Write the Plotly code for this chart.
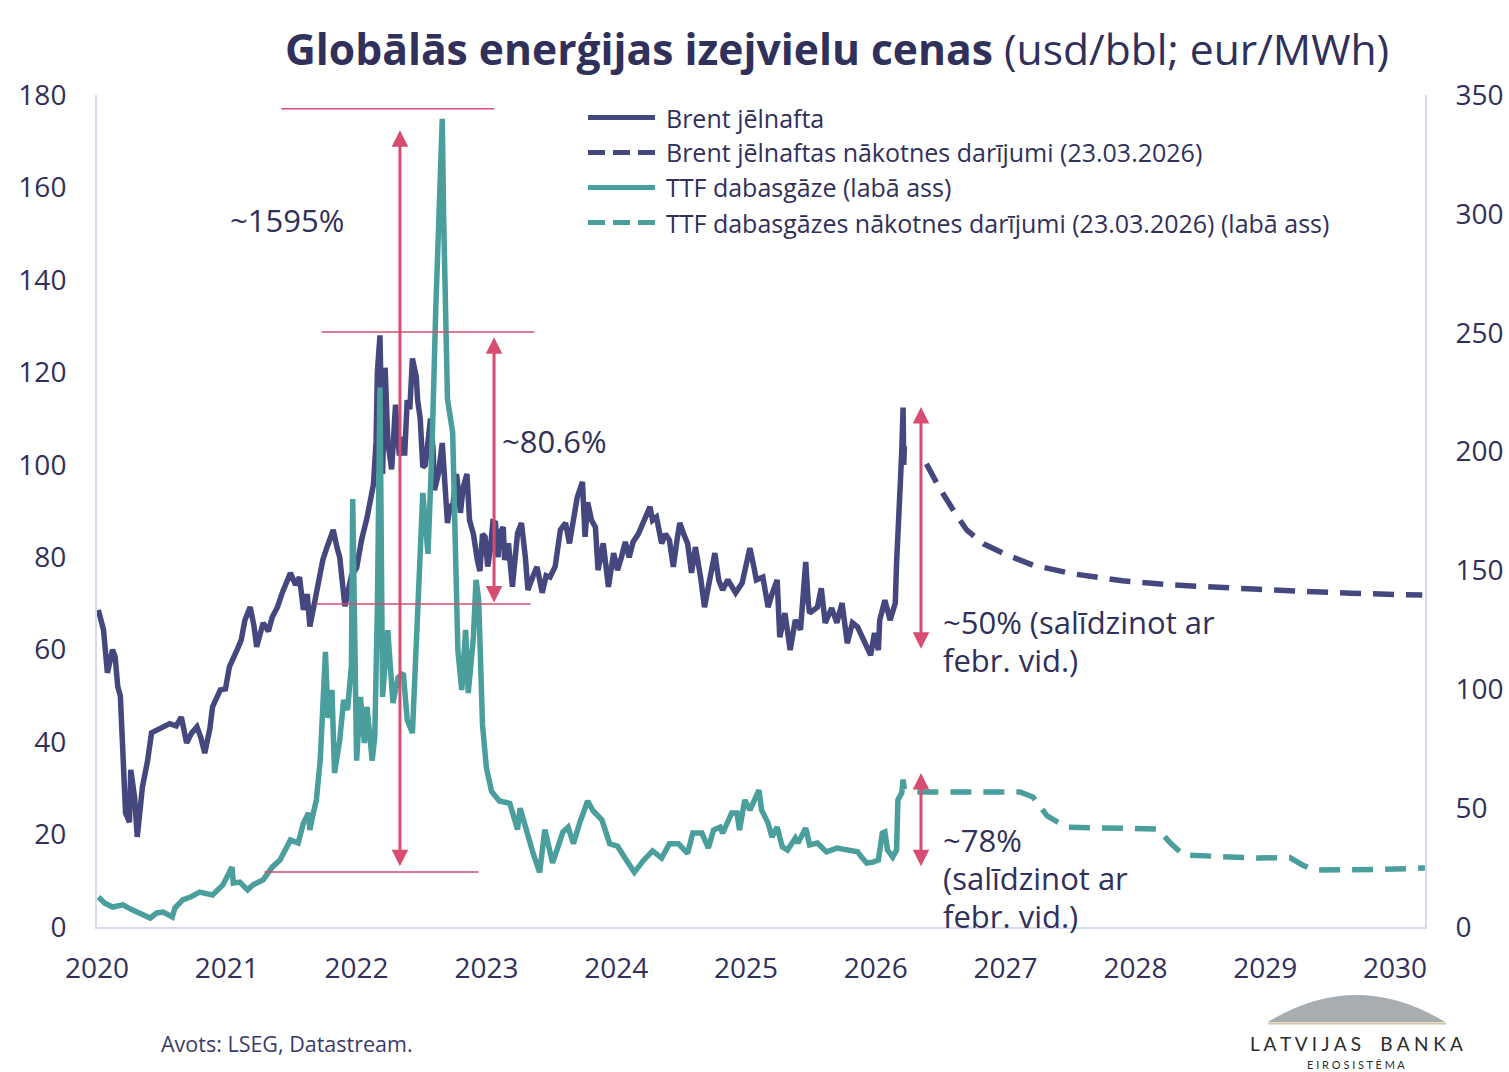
import plotly.graph_objects as go

# ---------------- data ----------------
brent_t = [2020.01, 2020.05, 2020.08, 2020.12, 2020.14, 2020.16, 2020.18, 2020.20, 2020.22, 2020.25,
           2020.26, 2020.29, 2020.31, 2020.35, 2020.39, 2020.42, 2020.49, 2020.56, 2020.61, 2020.65,
           2020.69, 2020.73, 2020.77, 2020.80, 2020.83, 2020.87, 2020.89, 2020.95, 2020.99, 2021.02,
           2021.08, 2021.11, 2021.14, 2021.18, 2021.21, 2021.23, 2021.28, 2021.32, 2021.35, 2021.39,
           2021.43, 2021.49, 2021.53, 2021.56, 2021.59, 2021.62, 2021.64, 2021.68, 2021.72, 2021.74,
           2021.77, 2021.82, 2021.85, 2021.87, 2021.90, 2021.91, 2021.93, 2021.96, 2022.00, 2022.04,
           2022.08, 2022.10, 2022.13, 2022.15, 2022.16, 2022.18, 2022.19, 2022.20, 2022.22, 2022.24,
           2022.27, 2022.30, 2022.31, 2022.33, 2022.36, 2022.37, 2022.39, 2022.41, 2022.43, 2022.46,
           2022.47, 2022.49, 2022.51, 2022.53, 2022.57, 2022.59, 2022.60, 2022.63, 2022.66, 2022.68,
           2022.70, 2022.72, 2022.74, 2022.77, 2022.80, 2022.82, 2022.85, 2022.87, 2022.90, 2022.93,
           2022.95, 2022.97, 2022.99, 2023.01, 2023.03, 2023.05, 2023.07, 2023.09, 2023.10, 2023.13,
           2023.14, 2023.17, 2023.20, 2023.24, 2023.27, 2023.30, 2023.32, 2023.36, 2023.39, 2023.43,
           2023.46, 2023.49, 2023.53, 2023.57, 2023.61, 2023.64, 2023.67, 2023.70, 2023.74, 2023.76,
           2023.78, 2023.81, 2023.84, 2023.86, 2023.90, 2023.94, 2023.98, 2024.01, 2024.04, 2024.07,
           2024.10, 2024.13, 2024.17, 2024.20, 2024.23, 2024.26, 2024.28, 2024.31, 2024.35, 2024.38,
           2024.41, 2024.44, 2024.47, 2024.49, 2024.52, 2024.55, 2024.58, 2024.61, 2024.65, 2024.68,
           2024.72, 2024.76, 2024.79, 2024.82, 2024.86, 2024.92, 2024.97, 2025.00, 2025.03, 2025.06,
           2025.08, 2025.13, 2025.17, 2025.20, 2025.24, 2025.26, 2025.30, 2025.34, 2025.38, 2025.42,
           2025.44, 2025.46, 2025.48, 2025.49, 2025.55, 2025.58, 2025.61, 2025.66, 2025.70, 2025.74,
           2025.78, 2025.82, 2025.86, 2025.90, 2025.96, 2025.99, 2026.02, 2026.03, 2026.07, 2026.11,
           2026.15, 2026.16, 2026.17, 2026.19, 2026.20, 2026.21, 2026.215, 2026.22]
brent_v = [68.6, 64.3, 55, 60, 58.4, 52, 50, 34.6, 24.7, 22.7,
           34, 28, 19.5, 30.3, 36, 42, 43, 44, 43.5, 45.4,
           39.8, 42, 43.3, 41, 37.6, 43, 47.6, 51.3, 51.5, 56.3,
           60, 62, 66.4, 69.2, 65, 60.6, 65.8, 64, 67, 69.2,
           72.5, 76.6, 74, 75.7, 68.6, 72, 65, 71, 77, 79.4,
           82, 85.9, 82, 80, 72, 69.4, 72, 76, 77.7, 84,
           88.5, 92, 95.8, 105, 120, 128, 112, 98, 121, 105,
           99, 113, 108, 102, 106, 102, 114, 112, 123, 119,
           114, 110, 99.5, 100, 110, 103, 94.5, 98, 104.7, 96,
           87.4, 91, 90.9, 98, 89.6, 95, 98, 88, 85, 79.4,
           77, 85, 84.4, 78, 81.6, 87.6, 87.4, 80, 85, 86.5,
           79.4, 83, 73.6, 85.2, 87.4, 80, 72.9, 76, 77.9, 72.3,
           76, 75.7, 78, 85.9, 87.4, 83, 88, 93, 96.3, 84.4,
           91.9, 88, 86.5, 77.2, 83, 73.6, 80.9, 77.2, 80, 83.3,
           80, 83.3, 85, 87, 89, 90.9, 88, 88.7, 83, 85,
           83.7, 77.9, 84, 87.4, 85, 83, 76.6, 82.2, 75.7, 69.2,
           75.1, 80.9, 75, 72.9, 75.1, 72.3, 74.4, 78, 82, 78,
           75.1, 75.7, 69.2, 72, 75.1, 62.7, 67.9, 59.9, 66.4, 64.3,
           72.3, 79, 70, 67.9, 69.2, 73.3, 65.8, 69, 65.8, 70.1,
           61.4, 65.8, 64.9, 62.7, 58.8, 63.6, 59.9, 66.4, 70.7, 66.4,
           70.1, 78.8, 87.4, 96.7, 103, 112.4, 100, 104]

brent_fut_t = [2026.39, 2026.49, 2026.61, 2026.70, 2026.83, 2027.01, 2027.21, 2027.52, 2027.90,
               2028.29, 2028.91, 2029.27, 2029.66, 2030.21]
brent_fut_v = [100.2, 95, 89.6, 85.9, 82.9, 80.5, 78.3, 76.4, 74.9, 74, 73.1, 72.6, 72.2, 71.8]

ttf_t = [2020.01, 2020.06, 2020.12, 2020.20, 2020.27, 2020.33, 2020.41, 2020.46, 2020.51, 2020.58,
         2020.60, 2020.66, 2020.72, 2020.79, 2020.85, 2020.89, 2020.97, 2021.04, 2021.05, 2021.10,
         2021.16, 2021.20, 2021.28, 2021.35, 2021.41, 2021.49, 2021.55, 2021.59, 2021.63, 2021.64,
         2021.66, 2021.69, 2021.72, 2021.74, 2021.76, 2021.78, 2021.81, 2021.83, 2021.87, 2021.90,
         2021.93, 2021.96, 2021.97, 2022.00, 2022.03, 2022.06, 2022.08, 2022.12, 2022.14, 2022.16,
         2022.18, 2022.20, 2022.24, 2022.28, 2022.32, 2022.36, 2022.39, 2022.43, 2022.47, 2022.51,
         2022.55, 2022.58, 2022.61, 2022.63, 2022.66, 2022.67, 2022.69, 2022.70, 2022.74, 2022.76,
         2022.78, 2022.81, 2022.84, 2022.86, 2022.90, 2022.92, 2022.94, 2022.97, 2023.00, 2023.04,
         2023.10, 2023.18, 2023.24, 2023.26, 2023.31, 2023.36, 2023.41, 2023.45, 2023.51, 2023.54,
         2023.59, 2023.63, 2023.67, 2023.72, 2023.78, 2023.82, 2023.89, 2023.95, 2024.01, 2024.08,
         2024.14, 2024.21, 2024.28, 2024.35, 2024.41, 2024.48, 2024.55, 2024.59, 2024.66, 2024.71,
         2024.75, 2024.80, 2024.82, 2024.89, 2024.93, 2024.95, 2024.99, 2025.03, 2025.07, 2025.10,
         2025.12, 2025.17, 2025.20, 2025.24, 2025.28, 2025.32, 2025.38, 2025.40, 2025.46, 2025.49,
         2025.55, 2025.62, 2025.70, 2025.78, 2025.86, 2025.89, 2025.93, 2025.98, 2026.02, 2026.05,
         2026.07, 2026.09, 2026.13, 2026.16, 2026.17, 2026.20, 2026.21, 2026.22]
ttf_v = [12.6, 10, 8.4, 9.3, 7.2, 5.9, 3.8, 5.9, 6.3, 4.2,
         8, 11.4, 12.6, 14.7, 14.3, 13.5, 17.7, 25.2, 18.5, 18.9,
         15.6, 17.7, 19.8, 25.2, 28.2, 36.6, 35.3, 43.7, 48, 40.8,
         46.3, 53.4, 70.3, 95.5, 115.7, 88, 99.7, 64.8, 78.7, 95.5,
         91.3, 110, 180, 70, 96.8, 77.4, 92.6, 70, 80, 134.6,
         227, 96.8, 124.9, 94.2, 105, 106.8, 87, 81.6, 133.4, 182.6,
         157, 200, 260, 300, 340, 300, 244, 222, 208, 161.5,
         116.5, 99.7, 125, 98.4, 122, 146, 138, 85, 67, 57,
         53, 52, 41, 50, 40, 31, 23, 41, 27, 32,
         40, 42, 35, 44, 53, 49, 45, 35, 34, 28,
         23, 28, 32, 29, 35, 35, 31, 39.5, 39.5, 33.2,
         40.8, 42, 39.5, 48, 48, 40.8, 53.4, 49.2, 53.4, 57.6,
         49.2, 43.7, 37.9, 42, 33.7, 32.4, 37.4, 35.3, 41.6, 34.5,
         35.3, 31.6, 33.2, 32.4, 31.6, 29.4, 26.9, 27.3, 28.2, 39.5,
         40, 32.4, 29.4, 32.4, 53.4, 56.4, 62, 58]

ttf_fut_t = [2026.32, 2026.60, 2026.90, 2027.11, 2027.21, 2027.32, 2027.47, 2027.88, 2028.17, 2028.27,
             2028.37, 2028.94, 2029.19, 2029.29, 2029.38, 2029.88, 2030.23]
ttf_fut_v = [56.8, 57, 56.9, 56.8, 54.7, 46.7, 42, 41.5, 41.2, 35.3,
             30.3, 29, 29.2, 26, 24, 24.2, 24.8]

year_ticks = [2020, 2021, 2022, 2023, 2024, 2025, 2026, 2027, 2028, 2029, 2030]
left_ticks = [0, 20, 40, 60, 80, 100, 120, 140, 160, 180]
right_ticks = [0, 50, 100, 150, 200, 250, 300, 350]

series_names = ["Brent jēlnafta",
                "Brent jēlnaftas nākotnes darījumi (23.03.2026)",
                "TTF dabasgāze (labā ass)",
                "TTF dabasgāzes nākotnes darījumi (23.03.2026) (labā ass)"]

# ---------------- style ----------------
NAVY = "#45477f"
TEAL = "#4a9e9c"
PINK = "#d64d71"
TXT = "#30305a"
AXIS = "#d9d9ec"
FONT = "Open Sans"

W, H = 1509, 1072
L, R, T, B = 97, 1425, 95, 927


def px(X):
    return (X - L) / (R - L)


def py(Y):
    return (B - Y) / (B - T)


fig = go.Figure()
fig.add_trace(go.Scatter(x=brent_t, y=brent_v, mode="lines", name=series_names[0],
                         line=dict(color=NAVY, width=5.5), showlegend=False))
fig.add_trace(go.Scatter(x=brent_fut_t, y=brent_fut_v, mode="lines", name=series_names[1],
                         line=dict(color=NAVY, width=5.5, dash="21px,12px"), showlegend=False))
fig.add_trace(go.Scatter(x=ttf_t, y=ttf_v, mode="lines", name=series_names[2], yaxis="y2",
                         line=dict(color=TEAL, width=5.5), showlegend=False))
fig.add_trace(go.Scatter(x=ttf_fut_t, y=ttf_fut_v, mode="lines", name=series_names[3], yaxis="y2",
                         line=dict(color=TEAL, width=5.5, dash="21px,12px"), showlegend=False))

shapes = []
annotations = []

# reference horizontal lines (data coords, left axis)
ref_lines = [(2021.42, 2023.06, 177.0), (2021.73, 2023.37, 128.7),
             (2021.69, 2023.34, 69.9), (2021.29, 2022.94, 11.9)]
for x0, x1, yv in ref_lines:
    shapes.append(dict(type="line", xref="x", yref="y", x0=x0, x1=x1, y0=yv, y1=yv,
                       line=dict(color=PINK, width=1.5), layer="above"))

# double-headed arrows
arrows = [(2022.334, 172.4, 12.8), (2023.059, 127.6, 69.9),
          (2026.348, 112.5, 59.9), (2026.348, 33.3, 12.8)]
for xa, ytop, ybot in arrows:
    annotations.append(dict(x=xa, y=ytop, ax=xa, ay=ybot, xref="x", yref="y", axref="x", ayref="y",
                            text="", showarrow=True, arrowhead=2, startarrowhead=2,
                            arrowside="end+start", arrowsize=1.1, startarrowsize=1.1,
                            arrowwidth=3, arrowcolor=PINK, standoff=0, startstandoff=0))

# text labels (one annotation per line, window-pixel positions)
label_lines = [(228, 220, "~1595%"), (500, 441, "~80.6%"),
               (941, 622, "~50% (salīdzinot ar"), (941, 660, "febr. vid.)"),
               (941, 840, "~78%"), (941, 878, "(salīdzinot ar"), (941, 916, "febr. vid.)")]
for xt, yt, txt in label_lines:
    annotations.append(dict(x=px(xt), y=py(yt), xref="paper", yref="paper", text=txt,
                            showarrow=False, xanchor="left", yanchor="middle", align="left",
                            font=dict(family=FONT, size=31, color=TXT)))

# title
annotations.append(dict(x=px(837), y=py(48), xref="paper", yref="paper",
                        text="<b>Globālās enerģijas izejvielu cenas</b> (usd/bbl; eur/MWh)",
                        showarrow=False, xanchor="center", yanchor="middle",
                        font=dict(family=FONT, size=42.6, color=TXT)))

# manual legend
leg_y = [117.5, 152.5, 187.5, 222.5]
leg_dash = ["solid", "17px,8px", "solid", "17px,8px"]
leg_col = [NAVY, NAVY, TEAL, TEAL]
for yy, dsh, col, name in zip(leg_y, leg_dash, leg_col, series_names):
    shapes.append(dict(type="line", xref="paper", yref="paper", x0=px(588), x1=px(655),
                       y0=py(yy), y1=py(yy), line=dict(color=col, width=5, dash=dsh)))
    annotations.append(dict(x=px(664), y=py(yy), xref="paper", yref="paper", text=name,
                            showarrow=False, xanchor="left", yanchor="middle",
                            font=dict(family=FONT, size=25, color=TXT)))

# source
annotations.append(dict(x=px(159), y=py(1043), xref="paper", yref="paper",
                        text="Avots: LSEG, Datastream.", showarrow=False,
                        xanchor="left", yanchor="middle",
                        font=dict(family=FONT, size=21.5, color="#3b3b6b")))

# logo
x_a, x_b, y_base, y_top = 1268, 1445, 1022, 995
ctrl = 2 * y_top - y_base
shapes.append(dict(type="path", xref="paper", yref="paper",
                   path=f"M {px(x_a)},{py(y_base)} Q {px((x_a + x_b) / 2)},{py(ctrl)} {px(x_b)},{py(y_base)} Z",
                   fillcolor="#a8adb1", line=dict(width=0)))
shapes.append(dict(type="line", xref="paper", yref="paper", x0=px(1268), x1=px(1446),
                   y0=py(1023.5), y1=py(1023.5), line=dict(color="#d8c3a5", width=2)))
annotations.append(dict(x=px(1356), y=py(1043), xref="paper", yref="paper",
                        text="L A T V I J A S \u2002 B A N K A", showarrow=False,
                        xanchor="center", yanchor="middle",
                        font=dict(family="Lato", size=19, color="#2b2b2b")))
annotations.append(dict(x=px(1356), y=py(1064), xref="paper", yref="paper",
                        text="E I R O S I S T Ē M A", showarrow=False,
                        xanchor="center", yanchor="middle",
                        font=dict(family="Lato", size=11, color="#2b2b2b")))

fig.update_layout(
    width=W, height=H, autosize=False,
    margin=dict(l=L, r=W - R, t=T, b=H - B, pad=0, autoexpand=False),
    paper_bgcolor="white", plot_bgcolor="white",
    font=dict(family=FONT, color=TXT),
    showlegend=False,
    shapes=shapes, annotations=annotations,
    xaxis=dict(range=[2020, 2030.231], tickmode="array", tickvals=year_ticks,
               ticktext=[str(y) for y in year_ticks], showgrid=False, zeroline=False,
               showline=True, linecolor=AXIS, linewidth=2, ticks="", automargin=False,
               ticklabelstandoff=15, tickfont=dict(family=FONT, size=28, color=TXT)),
    yaxis=dict(range=[0, 180], tickmode="array", tickvals=left_ticks, showgrid=False,
               zeroline=False, showline=True, linecolor=AXIS, linewidth=2, ticks="",
               automargin=False,
               ticklabelstandoff=23, tickfont=dict(family=FONT, size=28, color=TXT)),
    yaxis2=dict(range=[0, 350], tickmode="array", tickvals=right_ticks, overlaying="y",
                side="right", showgrid=False, zeroline=False, showline=True, linecolor=AXIS,
                linewidth=2, ticks="", ticklabelstandoff=23, automargin=False,
                tickfont=dict(family=FONT, size=28, color=TXT)),
)

fig.write_html("out.html", config={"displayModeBar": False},
               post_script="document.body.style.margin='0';document.body.style.overflow='hidden';")
